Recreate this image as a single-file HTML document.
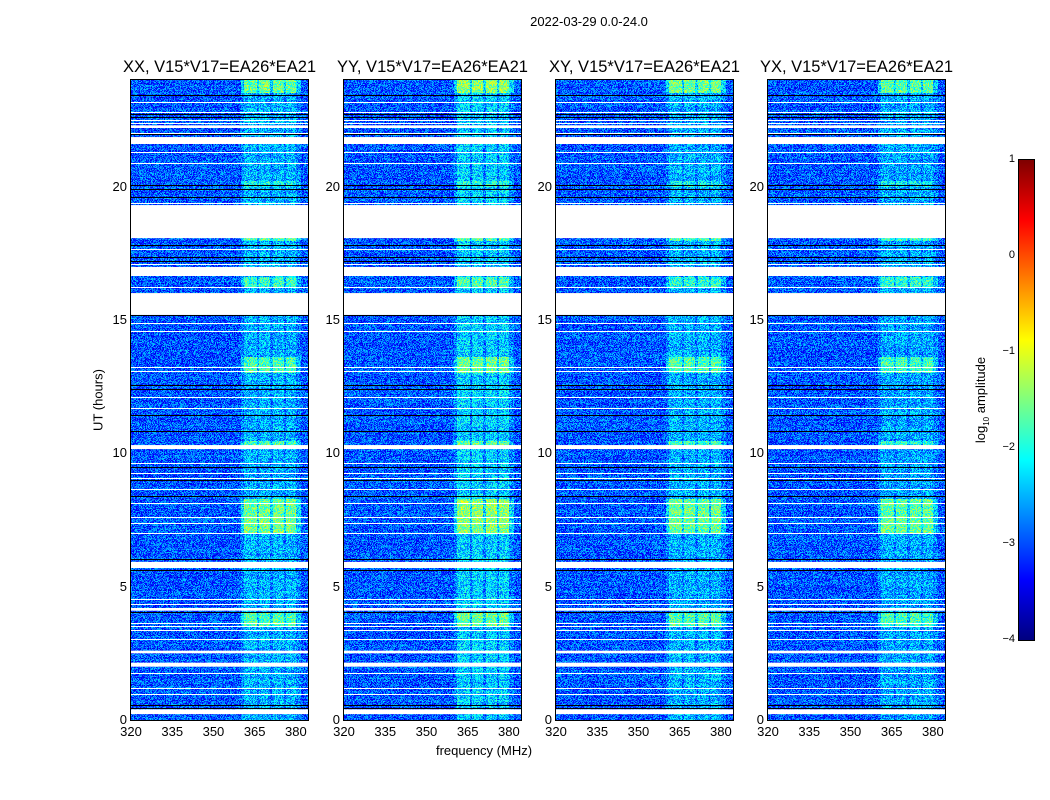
<!DOCTYPE html>
<html><head><meta charset="utf-8">
<style>
body{margin:0;background:#fff;width:1050px;height:800px;overflow:hidden;position:relative;font-family:"Liberation Sans","DejaVu Sans",sans-serif;color:#000}
.abs{position:absolute;white-space:nowrap}
canvas{position:absolute;image-rendering:pixelated}
.frame{position:absolute;border:1px solid #000;box-sizing:border-box}
.tk{position:absolute;font-size:13px;white-space:nowrap}
.ttl{position:absolute;font-size:16.5px;white-space:nowrap;transform:translateX(-50%)}
</style></head>
<body>
<div class="abs" style="left:589px;top:14px;font-size:13px;transform:translateX(-50%)">2022-03-29 0.0-24.0</div>
<div class="abs" style="left:98px;top:400px;font-size:13px;transform:translate(-50%,-50%) rotate(-90deg)">UT (hours)</div>
<div class="abs" style="left:484px;top:743px;font-size:13px;transform:translateX(-50%)">frequency (MHz)</div>
<div id="root"></div>
<canvas id="cbar" width="1" height="480" style="left:1019px;top:160px;width:15px;height:480px"></canvas>
<div class="frame" style="left:1018px;top:159px;width:17px;height:482px"></div>
<div class="abs" style="left:982px;top:400px;font-size:13px;transform:translate(-50%,-50%) rotate(-90deg)">log<sub style="font-size:8px">10</sub> amplitude</div>
<script>
// ---- data ----
const panelTitles=["XX, V15*V17=EA26*EA21","YY, V15*V17=EA26*EA21","XY, V15*V17=EA26*EA21","YX, V15*V17=EA26*EA21"];
const panelGain=[0,0.15,0,-0.05];
const xTicks=[320,335,350,365,380];
const yTicks=[0,5,10,15,20];
const cbTicks=[1,0,-1,-2,-3,-4];
const flagWide=[[18.07,19.31],[15.19,16.01],[16.65,16.99],[5.7,5.93],[10.16,10.31],[2.5,2.6],[2.0,2.15],[0.22,0.4],[4.1,4.2],[22.2,22.3],[21.6,21.86]];
const flagThin=[23.18,22.8,22.5,22.4,22.0,21.3,20.9,19.4,17.66,17.1,16.24,14.9,14.6,13.24,13.1,12.1,11.7,9.64,9.26,9.07,8.66,8.14,7.6,7.39,7.0,4.54,4.35,3.64,3.52,3.37,3.03,1.76,1.2,0.98];
const blackLines=[23.45,23.42,22.72,22.62,21.98,20.08,19.92,19.6,17.8,17.38,17.22,16.02,15.18,12.58,12.42,11.44,10.84,9.5,9.0,8.4,6.04,5.63,4.05,1.76,0.56,0.45];
const subBands=[[361,366],[366.5,370.5],[371.5,375.5],[376.5,380]];
const bandSegs=[[23.5,24,-1.6],[13,13.6,-1.75],[7,8.3,-1.6],[3.5,4.0,-1.75],[10.2,10.45,-1.8],[16.2,16.6,-1.9],[17.95,18.1,-1.8],[20,20.2,-2.1]];
const bandDefault=-2.5, background=-2.95, fMin=320, fMax=384.4, tMin=0, tMax=24;
// ---- layout ----
const panelX=[131,344,556,768], pTop=80, pW=177, pH=640;
const xs=f=>(f-fMin)/(fMax-fMin)*pW;
const ys=t=>pH-(t-tMin)/(tMax-tMin)*pH;
function jet(t){t=Math.max(0,Math.min(1,t));
 const r=Math.max(0,Math.min(1,1.5-Math.abs(4*t-3))),g=Math.max(0,Math.min(1,1.5-Math.abs(4*t-2))),b=Math.max(0,Math.min(1,1.5-Math.abs(4*t-1)));
 return [r*255|0,g*255|0,b*255|0];}
function hash(a,b,c){let h=(a*374761393+b*668265263+c*2147483647)|0;h=(h^(h>>>13))*1274126177|0;h=h^(h>>>16);return (h>>>0)/4294967296;}
const root=document.getElementById('root');
panelX.forEach((px,pi)=>{
 const cv=document.createElement('canvas');
 
 
 cv.width=pW;cv.height=pH;cv.style.left=px+'px';cv.style.top=pTop+'px';cv.style.width=pW+'px';cv.style.height=pH+'px';
 root.appendChild(cv);
 const ctx=cv.getContext('2d');const img=ctx.createImageData(pW,pH);
 for(let r=0;r<pH;r++){
  const t=tMax-(r+0.5)/pH*(tMax-tMin);
  let bl=bandDefault;bandSegs.forEach(s=>{if(t>=s[0]&&t<s[1])bl=s[2];});
  const rowN=hash(r,7,pi)*0.2-0.1;
  for(let c=0;c<pW;c++){
   const f=fMin+(c+0.5)/pW*(fMax-fMin);
   let v=background+rowN;
   let inSub=subBands.some(s=>f>=s[0]&&f<s[1]);
   if(inSub)v=bl+panelGain[pi]+rowN;else if(f>=360&&f<382)v=(bl+bandDefault)/2-0.25+rowN;
   v+=(hash(r,c,pi+11)-0.5)*1.1;
   const col=jet((v+4)/5);const i=(r*pW+c)*4;
   img.data[i]=col[0];img.data[i+1]=col[1];img.data[i+2]=col[2];img.data[i+3]=255;
  }
 }
 ctx.putImageData(img,0,0);
 ctx.fillStyle='#000';
 blackLines.forEach(t=>{ctx.fillRect(0,Math.round(ys(t)),pW,1);});
 ctx.fillStyle='#fff';
 flagWide.forEach(b=>{const y1=ys(b[1]),y2=ys(b[0]);ctx.fillRect(0,y1,pW,y2-y1);});
 flagThin.forEach(t=>{ctx.fillRect(0,Math.round(ys(t)),pW,1);});
 const fr=document.createElement('div');fr.className='frame';
 
 
 fr.style.cssText=`left:${px-1}px;top:${pTop-1}px;width:${pW+2}px;height:${pH+2}px`;root.appendChild(fr);
 const tt=document.createElement('div');tt.className='ttl';tt.textContent=panelTitles[pi];
 
 
 tt.style.left=(px+pW/2)+'px';tt.style.top='58px';root.appendChild(tt);
 xTicks.forEach(v=>{const d=document.createElement('div');d.className='tk';d.textContent=v;
  
  
  d.style.left=(px+xs(v))+'px';d.style.top='724px';d.style.transform='translateX(-50%)';root.appendChild(d);});
 yTicks.forEach(v=>{const d=document.createElement('div');d.className='tk';d.textContent=v;
  
  
  d.style.right=(1050-px+4)+'px';d.style.top=(pTop+ys(v)-8)+'px';root.appendChild(d);});
});
// colorbar
const cb=document.getElementById('cbar').getContext('2d');
for(let r=0;r<480;r++){const c=jet(1-(r+0.5)/480);cb.fillStyle=`rgb(${c[0]},${c[1]},${c[2]})`;cb.fillRect(0,r,1,1);}
cbTicks.forEach(v=>{const d=document.createElement('div');d.className='tk';d.style.fontSize='11px';
 d.textContent=v<0?'\u2212'+(-v):v;
 
 
 d.style.right=(1050-1015)+'px';d.style.top=(160+(1-v)/5*480-7)+'px';root.appendChild(d);});
</script>
</body></html>
